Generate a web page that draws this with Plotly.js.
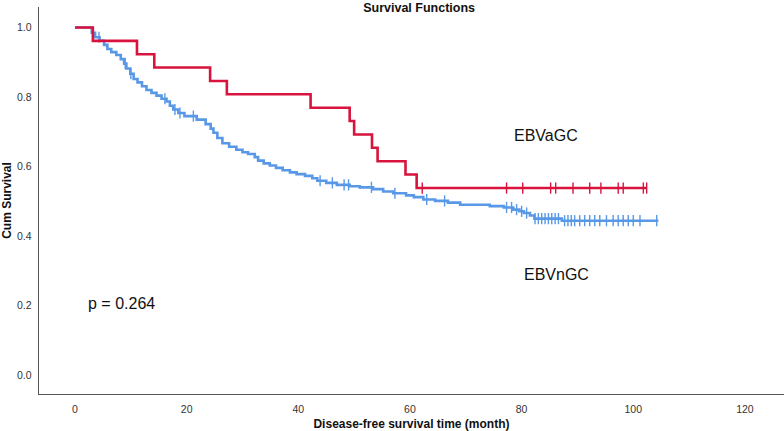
<!DOCTYPE html>
<html>
<head>
<meta charset="utf-8">
<script src="https://cdn.plot.ly/plotly-3.0.1.min.js"></script>
<style>html,body{margin:0;padding:0;background:#fff;}#chart{width:784px;height:431px;}</style>
</head>
<body>
<div id="chart"></div>
<script>
// EBVaGC (red) Kaplan-Meier steps: drop times and survival after each drop
var ebvaTimes = [0, 3.2, 11.1, 14.2, 24.2, 27.2, 42.2, 49.2, 50.0, 53.2, 54.2, 59.2, 61.2];
var ebvaSurv  = [1.0, 0.9615, 0.923, 0.885, 0.846, 0.808, 0.769, 0.731, 0.692, 0.654, 0.615, 0.577, 0.538];
var ebvaEnd = 102.4;
var ebvaCensor = [62.2, 77.3, 80.2, 85.2, 86.1, 89.2, 92.2, 94.2, 97.3, 98.2, 101.8, 102.4];

// EBVnGC (blue)
var ebvnTimes = [0, 3.0, 3.6, 4.4, 5.2, 5.8, 6.5, 7.4, 8.2, 8.8, 9.2, 9.9, 10.5, 11.2, 12.0, 12.8, 13.7, 14.6, 15.5, 16.4, 17.0, 17.6, 18.5, 19.6, 21.8, 23.4, 24.3, 24.8, 25.5, 26.4, 27.6, 28.9, 30.0, 31.0, 32.2, 32.8, 33.8, 34.9, 36.0, 37.2, 38.5, 39.7, 41.2, 42.5, 43.4, 45.0, 46.9, 49.2, 51.0, 53.4, 55.2, 57.0, 59.3, 60.7, 62.4, 64.5, 66.8, 69.0, 74.3, 76.8, 78.5, 79.6, 80.4, 81.5, 82.3, 87.2];
var ebvnSurv  = [1.0, 0.985, 0.972, 0.962, 0.950, 0.938, 0.929, 0.921, 0.909, 0.896, 0.882, 0.867, 0.852, 0.842, 0.831, 0.820, 0.812, 0.804, 0.795, 0.787, 0.775, 0.764, 0.754, 0.745, 0.735, 0.722, 0.709, 0.697, 0.682, 0.667, 0.657, 0.648, 0.641, 0.636, 0.627, 0.617, 0.609, 0.603, 0.596, 0.589, 0.583, 0.578, 0.573, 0.566, 0.559, 0.553, 0.547, 0.543, 0.540, 0.535, 0.528, 0.523, 0.517, 0.512, 0.505, 0.501, 0.496, 0.490, 0.486, 0.482, 0.476, 0.471, 0.466, 0.459, 0.450, 0.444];
var ebvnEnd = 104.5;
var ebvnCensor = [4.3, 9.0, 10.0, 16.1, 17.9, 18.8, 21.2, 43.9, 46.1, 48.2, 49.0, 53.1, 57.3, 63.0, 66.2, 77.3, 78.2, 79.1, 80.0, 80.9, 82.4, 83.0, 83.6, 84.2, 84.8, 85.4, 86.0, 86.6, 87.7, 88.3, 88.9, 89.5, 90.4, 91.3, 92.2, 93.1, 94.0, 95.2, 96.4, 97.3, 98.2, 99.1, 100.0, 101.2, 104.2];

var xTicks = [0, 20, 40, 60, 80, 100, 120];
var yTicks = [0.0, 0.2, 0.4, 0.6, 0.8, 1.0];
var yTickText = ['0.0', '0.2', '0.4', '0.6', '0.8', '1.0'];

var RED = '#D8143E', BLUE = '#5898E6';

function stepAt(times, surv, t) {
  var s = surv[0];
  for (var i = 0; i < times.length; i++) { if (times[i] <= t) s = surv[i]; }
  return s;
}
function lineTrace(times, surv, end, color, name) {
  return {x: times.concat([end]), y: surv.concat([surv[surv.length - 1]]), mode: 'lines',
    line: {shape: 'hv', color: color, width: 2.6}, name: name, hoverinfo: 'skip'};
}
function censorTrace(times, surv, cens, color, name) {
  return {x: cens, y: cens.map(function (t) { return stepAt(times, surv, t); }), mode: 'markers',
    marker: {symbol: 'line-ns-open', size: 8, color: color, line: {color: color, width: 1.4}}, name: name + ' censored', hoverinfo: 'skip'};
}

var data = [
  lineTrace(ebvnTimes, ebvnSurv, ebvnEnd, BLUE, 'EBVnGC'),
  censorTrace(ebvnTimes, ebvnSurv, ebvnCensor, BLUE, 'EBVnGC'),
  lineTrace(ebvaTimes, ebvaSurv, ebvaEnd, RED, 'EBVaGC'),
  censorTrace(ebvaTimes, ebvaSurv, ebvaCensor, RED, 'EBVaGC')
];

var FONT = 'Liberation Sans, Arial, sans-serif';
var layout = {
  width: 784, height: 431,
  margin: {l: 39, r: 0, t: 7, b: 37},
  paper_bgcolor: '#fff', plot_bgcolor: '#fff',
  showlegend: false,
  font: {family: FONT, color: '#333', size: 10.5},
  title: {text: '<b>Survival Functions</b>', font: {family: FONT, size: 12.5, color: '#111'},
    x: 400 / 784, xanchor: 'center', xref: 'paper', y: 1 - 3 / 431, yref: 'container', yanchor: 'top', pad: {t: 0}},
  xaxis: {range: [-6.45, 127], tickvals: xTicks, ticks: '', showgrid: false, zeroline: false,
    showline: true, linecolor: '#555', linewidth: 1.3, ticklabelstandoff: 5,
    tickfont: {family: FONT, size: 10.5, color: '#333'},
    title: {text: '<b>Disease-free survival time (month)</b>', font: {family: FONT, size: 12, color: '#111'}, standoff: 6}},
  yaxis: {range: [-0.0547, 1.059], tickvals: yTicks, ticktext: yTickText, ticks: '', showgrid: false, zeroline: false,
    showline: true, linecolor: '#555', linewidth: 1.3, ticklabelstandoff: 4,
    tickfont: {family: FONT, size: 10.5, color: '#333'},
    title: {text: '<b>Cum Survival</b>', font: {family: FONT, size: 12, color: '#111'}, standoff: 2}},
  annotations: [
    {x: 84.4, y: 0.69, xref: 'x', yref: 'y', text: 'EBVaGC', showarrow: false, font: {family: FONT, size: 16, color: '#111'}},
    {x: 86.3, y: 0.288, xref: 'x', yref: 'y', text: 'EBVnGC', showarrow: false, font: {family: FONT, size: 16, color: '#111'}},
    {x: 8.4, y: 0.207, xref: 'x', yref: 'y', text: 'p = 0.264', showarrow: false, font: {family: FONT, size: 16, color: '#111'}}
  ]
};

Plotly.newPlot('chart', data, layout, {staticPlot: true, displayModeBar: false});
</script>
</body>
</html>
